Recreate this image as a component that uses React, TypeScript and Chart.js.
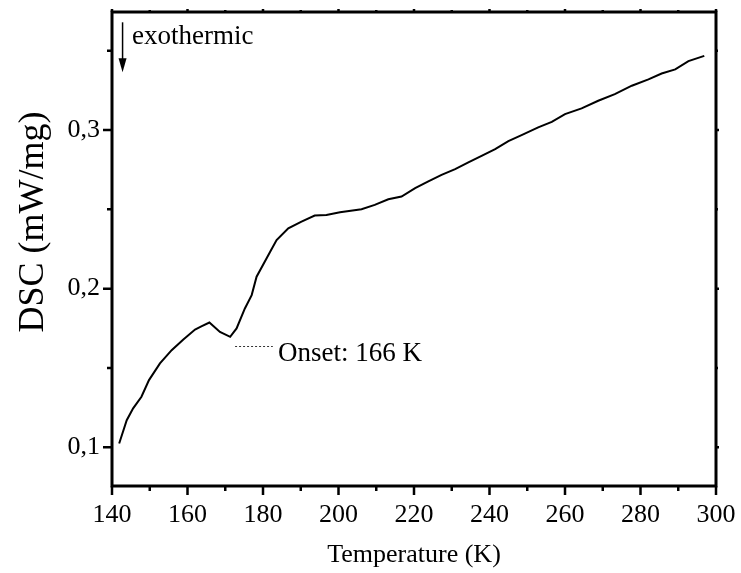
import React, { useEffect, useRef } from "react";
import { Chart, registerables } from "chart.js";

Chart.register(...registerables);

// Temperature (K)
const temps = [
  141.9, 143.9, 145.6, 147.8, 149.8, 152.7, 155.8, 158.9, 162.0, 163.8, 165.8,
  168.6, 171.3, 173.0, 175.2, 177.0, 178.3, 181.9, 183.6, 186.7, 190.2, 193.7,
  196.8, 200.4, 206.1, 209.6, 213.2, 216.7, 220.3, 223.8, 227.3, 230.9, 234.4,
  237.9, 241.5, 245.0, 248.5, 252.9, 256.5, 260.0, 264.4, 268.8, 273.2, 277.7,
  282.1, 285.6, 289.2, 292.7, 296.9,
];
// DSC (mW/mg)
const dsc = [
  0.1023, 0.117, 0.1245, 0.1318, 0.1423, 0.1528, 0.1612, 0.1679, 0.1742, 0.1763,
  0.1786, 0.1727, 0.1696, 0.1749, 0.1875, 0.1959, 0.2075, 0.2233, 0.2306, 0.238,
  0.2423, 0.2461, 0.2465, 0.2482, 0.2501, 0.2528, 0.2564, 0.2581, 0.2634, 0.2676,
  0.2718, 0.2754, 0.2796, 0.2838, 0.288, 0.2931, 0.2968, 0.3017, 0.3052, 0.3101,
  0.3137, 0.3185, 0.3227, 0.328, 0.332, 0.3357, 0.3383, 0.3435, 0.3468,
];

const xTicks = [140, 160, 180, 200, 220, 240, 260, 280, 300];
const xMinorTicks = [150, 170, 190, 210, 230, 250, 270, 290];
const yTicks = [0.1, 0.2, 0.3];
const yTickLabels = ["0,1", "0,2", "0,3"];
const yMinorTicks = [0.15, 0.25, 0.35];

const xTitle = "Temperature (K)";
const yTitle = "DSC (mW/mg)";
const exoLabel = "exothermic";
const onsetLabel = "Onset: 166 K";

const FONT = "'Liberation Serif', 'Times New Roman', serif";

const zeroPad = (s: any) => {
  s.paddingTop = 0;
  s.paddingBottom = 0;
  s.paddingLeft = 0;
  s.paddingRight = 0;
};

export default function App() {
  const ref = useRef<HTMLCanvasElement | null>(null);

  useEffect(() => {
    if (!ref.current) return;

    const decor = {
      id: "decor",
      afterDraw(chart: any) {
        const { ctx, chartArea } = chart;
        const xs = chart.scales.x;
        const ys = chart.scales.y;
        const { left, right, top, bottom } = chartArea;
        ctx.save();
        ctx.strokeStyle = "#000";
        ctx.fillStyle = "#000";
        // frame
        ctx.lineWidth = 3;
        ctx.strokeRect(left, top, right - left, bottom - top);
        // ticks
        ctx.lineWidth = 2.5;
        ctx.beginPath();
        xTicks.forEach((t) => {
          const p = xs.getPixelForValue(t);
          ctx.moveTo(p, bottom);
          ctx.lineTo(p, bottom + 9);
          ctx.moveTo(p, top);
          ctx.lineTo(p, top - 3);
        });
        xMinorTicks.forEach((t) => {
          const p = xs.getPixelForValue(t);
          ctx.moveTo(p, bottom);
          ctx.lineTo(p, bottom + 5);
          ctx.moveTo(p, top);
          ctx.lineTo(p, top - 2);
        });
        yTicks.forEach((v) => {
          const p = ys.getPixelForValue(v);
          ctx.moveTo(left, p);
          ctx.lineTo(left - 9, p);
          ctx.moveTo(right, p);
          ctx.lineTo(right + 3, p);
        });
        yMinorTicks.forEach((v) => {
          const p = ys.getPixelForValue(v);
          ctx.moveTo(left, p);
          ctx.lineTo(left - 5, p);
          ctx.moveTo(right, p);
          ctx.lineTo(right + 2, p);
        });
        ctx.stroke();

        // exothermic arrow
        const ax = xs.getPixelForValue(142.8);
        const ay1 = ys.getPixelForValue(0.368);
        const ay2 = ys.getPixelForValue(0.3365);
        ctx.lineWidth = 1.5;
        ctx.beginPath();
        ctx.moveTo(ax, ay1);
        ctx.lineTo(ax, ay2 - 12);
        ctx.stroke();
        ctx.beginPath();
        ctx.moveTo(ax - 4, ay2 - 14);
        ctx.lineTo(ax + 4, ay2 - 14);
        ctx.lineTo(ax, ay2);
        ctx.closePath();
        ctx.fill();

        ctx.font = `27px ${FONT}`;
        ctx.textAlign = "left";
        ctx.textBaseline = "alphabetic";
        ctx.fillText(exoLabel, xs.getPixelForValue(145.3), ys.getPixelForValue(0.3543));

        // onset dotted line
        const dy = Math.round(ys.getPixelForValue(0.1639)) + 0.5;
        ctx.lineWidth = 1;
        ctx.setLineDash([2, 2]);
        ctx.strokeStyle = "#333";
        ctx.beginPath();
        ctx.moveTo(xs.getPixelForValue(172.6), dy);
        ctx.lineTo(xs.getPixelForValue(182.6), dy);
        ctx.stroke();
        ctx.setLineDash([]);
        ctx.fillText(onsetLabel, xs.getPixelForValue(184.0), ys.getPixelForValue(0.1543));

        // axis titles
        ctx.textAlign = "center";
        ctx.font = `26px ${FONT}`;
        ctx.fillText(xTitle, (left + right) / 2, 562);

        ctx.save();
        ctx.translate(43, 222);
        ctx.rotate(-Math.PI / 2);
        ctx.font = `36px ${FONT}`;
        ctx.fillText(yTitle, 0, 0);
        ctx.restore();

        ctx.restore();
      },
    };

    const chart = new Chart(ref.current, {
      type: "line",
      data: {
        datasets: [
          {
            data: temps.map((t, i) => ({ x: t, y: dsc[i] })),
            borderColor: "#000",
            borderWidth: 2,
            pointRadius: 0,
            tension: 0,
            fill: false,
          },
        ],
      },
      options: {
        animation: false,
        responsive: false,
        devicePixelRatio: 1,
        layout: { padding: { top: 12, right: 25, left: 0, bottom: 0 } },
        plugins: { legend: { display: false }, tooltip: { enabled: false } },
        scales: {
          x: {
            type: "linear",
            min: 140,
            max: 300,
            grid: { display: false, drawTicks: false },
            border: { display: false },
            afterBuildTicks: (s: any) => {
              s.ticks = xTicks.map((v) => ({ value: v }));
            },
            ticks: {
              color: "#000",
              font: { family: FONT, size: 26 },
              padding: 14,
              maxRotation: 0,
              autoSkip: false,
              callback: (v: any) => String(v),
            },
            afterFit: (s: any) => {
              s.height = 87;
              zeroPad(s);
            },
          },
          y: {
            type: "linear",
            min: 0.0755,
            max: 0.3745,
            grid: { display: false, drawTicks: false },
            border: { display: false },
            afterBuildTicks: (s: any) => {
              s.ticks = yTicks.map((v) => ({ value: v }));
            },
            ticks: {
              color: "#000",
              font: { family: FONT, size: 26 },
              padding: 12,
              autoSkip: false,
              callback: (v: any) => {
                const i = yTicks.findIndex((t) => Math.abs(t - v) < 1e-9);
                return i >= 0 ? yTickLabels[i] : "";
              },
            },
            afterFit: (s: any) => {
              s.width = 112;
              zeroPad(s);
            },
          },
        },
      },
      plugins: [decor],
    });
    return () => chart.destroy();
  }, []);

  return (
    <div style={{ position: "fixed", left: 0, top: 0, width: 741, height: 573, background: "#fff" }}>
      <canvas ref={ref} width={741} height={573} style={{ display: "block" }} />
    </div>
  );
}
